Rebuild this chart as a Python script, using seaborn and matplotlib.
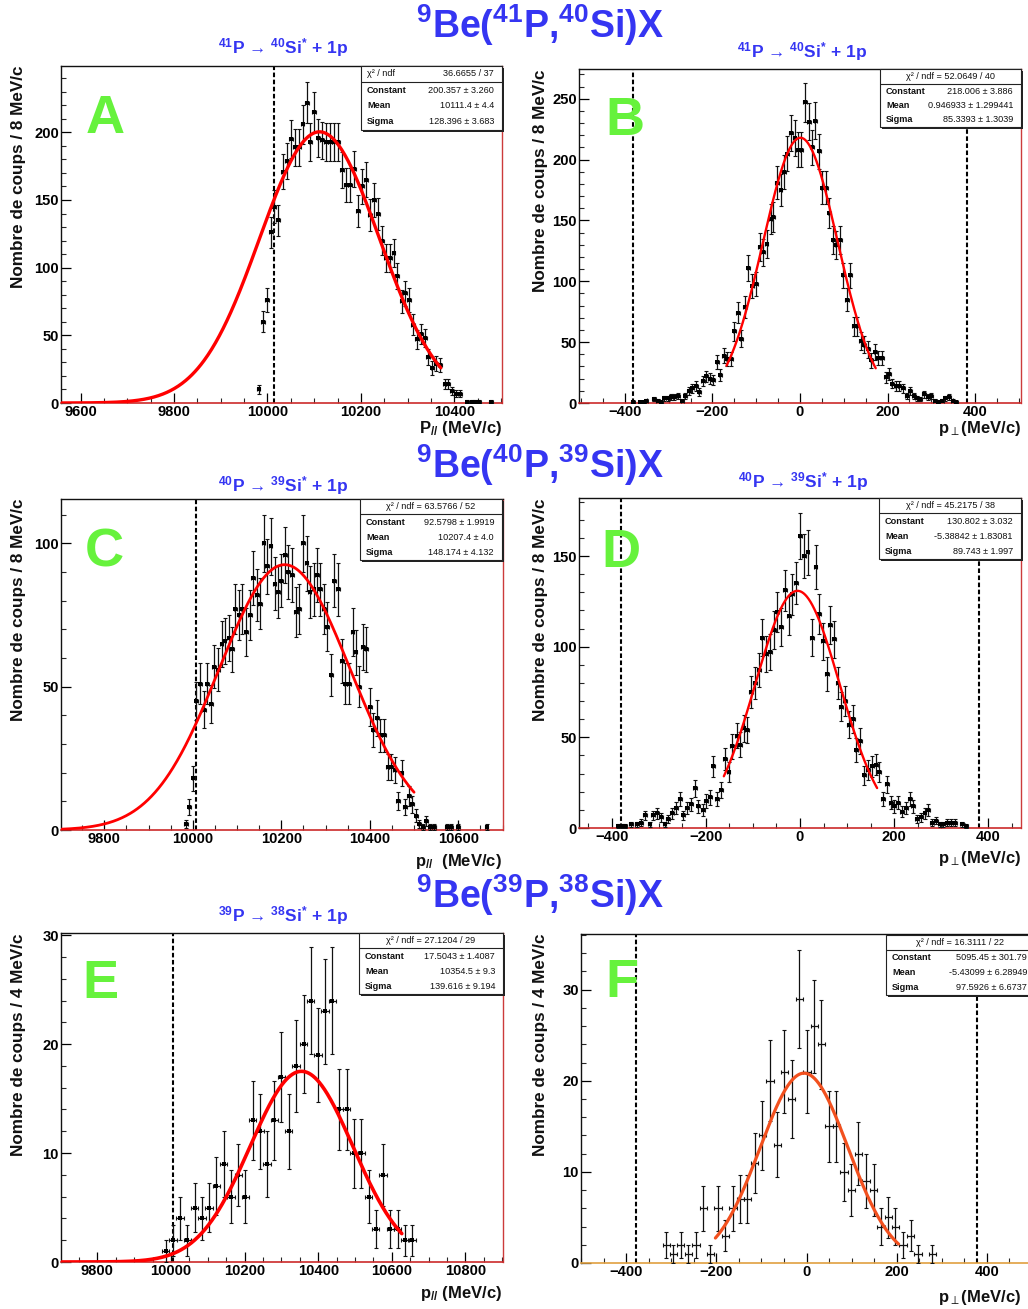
import numpy as np
import matplotlib
matplotlib.use("Agg")
import matplotlib.pyplot as plt
import seaborn as sns
from matplotlib.patches import Rectangle
from matplotlib.lines import Line2D
from matplotlib.ticker import MultipleLocator, AutoMinorLocator

# --- donnees ---
# A : 41P -> 40Si*, p parallele
a_x = [9981, 9991, 9999, 10008, 10015, 10023, 10033, 10041, 10050, 10058, 10067, 10075,
       10084, 10092, 10100, 10109, 10117, 10126, 10134, 10143, 10151, 10160, 10168, 10177,
       10186, 10194, 10202, 10211, 10219, 10228, 10236, 10245, 10253, 10262, 10270, 10278,
       10287, 10295, 10303, 10312, 10320, 10329, 10337, 10344, 10353, 10361, 10370, 10379,
       10387, 10395, 10404, 10413, 10428, 10437, 10445, 10453, 10479]
a_y = [10, 60, 76, 126, 145, 135, 171, 179, 195, 189, 189, 206,
       222, 193, 215, 196, 194, 193, 193, 193, 193, 172, 161, 161,
       173, 142, 160, 165, 139, 150, 140, 120, 107, 107, 111, 94,
       75, 81, 76, 58, 47, 51, 48, 34, 26, 29, 28, 14,
       14, 9, 7, 7, 1, 1, 1, 1, 1]

# B : 41P -> 40Si*, p perp
b_x = [-382, -366, -357, -351, -334, -325, -318, -310, -302, -295, -287, -278, -269, -262,
       -254, -246, -238, -230, -222, -214, -206, -198, -189, -182, -174, -166, -158, -150,
       -142, -134, -126, -118, -109, -101, -92, -84, -76, -67, -61, -53, -44, -36, -29, -20,
       -12, -5, 3, 11, 20, 27, 35, 44, 51, 60, 67, 76, 83, 91, 99, 107, 115, 123, 131, 139,
       147, 156, 163, 172, 179, 188, 196, 204, 211, 220, 227, 235, 244, 251, 260, 267, 275,
       283, 292, 299, 308, 316, 324, 332, 340, 349, 356]
b_y = [1, 1, 1, 2, 3, 2, 1, 4, 4, 5, 5, 6, 2, 6,
       10, 12, 14, 9, 18, 22, 20, 19, 34, 23, 39, 36, 36, 59,
       74, 53, 79, 111, 96, 98, 128, 124, 131, 151, 153, 181, 175, 190, 205, 222,
       218, 208, 208, 247, 231, 210, 232, 207, 177, 177, 156, 134, 130, 134, 105, 85, 105, 63, 63, 51,
       48, 44, 35, 42, 37, 37, 21, 24, 16, 14, 14, 12, 6, 10, 6, 4, 3,
       7, 5, 6, 2, 1, 2, 4, 5, 2, 1]

# C : 40P -> 39Si*, p parallele
c_x = [9984, 9992, 10001, 10008, 10017, 10025, 10033, 10041, 10048, 10057, 10065, 10072,
       10081, 10089, 10096, 10105, 10112, 10121, 10129, 10136, 10145, 10152, 10160, 10168,
       10176, 10185, 10192, 10200, 10208, 10216, 10224, 10233, 10240, 10249, 10257, 10264,
       10273, 10280, 10288, 10297, 10304, 10313, 10320, 10328, 10337, 10345, 10353, 10361,
       10368, 10376, 10384, 10392, 10401, 10408, 10417, 10424, 10432, 10440, 10448, 10456,
       10464, 10472, 10480, 10488, 10496, 10505, 10512, 10520, 10528, 10536, 10545, 10574,
       10583, 10599, 10664]
c_y = [2, 8, 18, 45, 51, 42, 51, 44, 57, 56, 65, 66,
       67, 63, 77, 75, 77, 69, 75, 88, 82, 79, 100, 92,
       99, 86, 83, 87, 96, 90, 89, 76, 77, 100, 93, 83,
       84, 89, 84, 77, 71, 54, 87, 84, 59, 51, 51, 69,
       62, 50, 64, 63, 43, 35, 39, 33, 33, 22, 22, 21,
       10, 20, 8, 12, 9, 5, 2, 1, 3, 1, 1, 1,
       1, 1, 1]

# D : 40P -> 39Si*, p perp
d_x = [-386, -379, -372, -360, -346, -338, -329, -320, -313, -304, -296, -288, -280, -272,
       -263, -256, -248, -240, -232, -224, -216, -207, -200, -192, -184, -176, -168, -160,
       -152, -144, -135, -127, -120, -112, -104, -96, -87, -80, -72, -64, -56, -48, -40, -32,
       -24, -16, -8, 1, 9, 16, 25, 33, 41, 49, 57, 64, 72, 80, 88, 96, 104, 112, 120, 128,
       137, 145, 153, 161, 168, 177, 185, 193, 200, 209, 217, 225, 234, 241, 249, 257, 265,
       273, 281, 290, 297, 305, 313, 321, 329, 345, 353]
d_y = [1, 1, 1, 2, 2, 3, 7, 2, 7, 8, 6, 2, 5, 8,
       11, 16, 7, 11, 13, 22, 12, 10, 15, 17, 34, 16, 21, 38,
       31, 45, 51, 46, 55, 54, 75, 80, 87, 105, 96, 97, 109, 119, 111, 131,
       117, 129, 135, 161, 150, 152, 105, 144, 118, 103, 85, 112, 104, 80, 67, 70, 57, 60, 43, 48,
       29, 32, 34, 35, 31, 16, 24, 14, 12, 14, 9, 11, 16, 12, 5, 6, 8,
       10, 3, 4, 2, 2, 3, 3, 3, 2, 1]

# E : 39P -> 38Si*, p parallele
e_x = [9985, 10005, 10024, 10044, 10064, 10084, 10103, 10123, 10143, 10163, 10183, 10202,
       10222, 10242, 10261, 10281, 10300, 10320, 10340, 10360, 10379, 10399, 10418, 10438,
       10457, 10477, 10497, 10517, 10537, 10556, 10576, 10596, 10616, 10636, 10655]
e_y = [1, 2, 4, 2, 5, 4, 5, 7, 9, 6, 8, 6,
       13, 12, 9, 13, 17, 12, 18, 20, 24, 19, 23, 24,
       14, 14, 10, 10, 6, 3, 8, 3, 3, 2, 2]

# F : 39P -> 38Si*, p perp
f_x = [-311, -295, -279, -262, -245, -229, -213, -196, -180, -163, -147, -131, -115, -98,
       -81, -65, -49, -33, -16, 1, 17, 33, 50, 66, 83, 99, 115, 132, 149, 165, 181, 197,
       214, 231, 247, 279]
f_y = [2, 1, 2, 1, 2, 6, 1, 6, 3, 6, 7, 7, 11, 14,
       20, 13, 21, 18, 29, 21, 26, 24, 15, 15, 10, 8, 12, 9, 8, 4, 5, 4,
       2, 3, 1, 1]

# parametres des ajustements (Constant, Mean, Sigma)
fit_a = (200.357, 10111.4, 128.396)
fit_b = (218.006, 0.946933, 85.3393)
fit_c = (92.5798, 10207.4, 148.174)
fit_d = (130.802, -5.38842, 89.743)
fit_e = (17.5043, 10354.5, 139.616)
fit_f = (5095.45, -5.43099, 97.5926)   # gausn (normalisee)

stats_a = ["χ² / ndf", "36.6655 / 37", ["200.357 ± 3.260", "10111.4 ± 4.4", "128.396 ± 3.683"]]
stats_b = ["χ² / ndf = 52.0649 / 40", None, ["218.006 ± 3.886", "0.946933 ± 1.299441", "85.3393 ± 1.3039"]]
stats_c = ["χ² / ndf = 63.5766 / 52", None, ["92.5798 ± 1.9919", "10207.4 ± 4.0", "148.174 ± 4.132"]]
stats_d = ["χ² / ndf = 45.2175 / 38", None, ["130.802 ± 3.032", "-5.38842 ± 1.83081", "89.743 ± 1.997"]]
stats_e = ["χ² / ndf = 27.1204 / 29", None, ["17.5043 ± 1.4087", "10354.5 ± 9.3", "139.616 ± 9.194"]]
stats_f = ["χ² / ndf = 16.3111 / 22", None, ["5095.45 ± 301.79", "-5.43099 ± 6.28949", "97.5926 ± 6.6737"]]

sns.set_style("ticks")
plt.rcParams['font.family'] = ['Liberation Sans', 'DejaVu Sans']
plt.rcParams['mathtext.fontset'] = 'custom'
plt.rcParams['mathtext.rm'] = 'Liberation Sans:bold'
plt.rcParams['mathtext.it'] = 'Liberation Sans:bold'
plt.rcParams['mathtext.bf'] = 'Liberation Sans:bold'
plt.rcParams['mathtext.fallback'] = 'stixsans'

W, H = 1028, 1309
fig = plt.figure(figsize=(W / 100, H / 100), dpi=100)
fig.patch.set_facecolor('white')

BLUE = '#3535f2'
GREEN = '#66f23c'


def fx(x):
    return x / W


def fy(y):
    return 1 - y / H


def make_axes(l, t, r, b):
    return fig.add_axes([l / W, 1 - b / H, (r - l) / W, (b - t) / H])


def gauss(x, c, m, s):
    return c * np.exp(-0.5 * ((x - m) / s) ** 2)


def stat_box(l, t, r, b, stats):
    h = b - t
    fig.add_artist(Rectangle((fx(l + 2), fy(b + 2)), (r - l) / W, h / H,
                             transform=fig.transFigure, facecolor='#222222', edgecolor='none', zorder=10))
    fig.add_artist(Rectangle((fx(l), fy(b)), (r - l) / W, h / H,
                             transform=fig.transFigure, facecolor='white', edgecolor='#222222',
                             lw=0.8, zorder=11))
    fig.add_artist(Line2D([fx(l), fx(r)], [fy(t + 0.25 * h)] * 2, transform=fig.transFigure,
                          color='#222222', lw=0.8, zorder=12))
    kw = dict(color='#111111', va='center', zorder=13)
    if stats[1] is None:
        fig.text(fx((l + r) / 2), fy(t + 0.125 * h), stats[0], ha='center', fontsize=6.6, **kw)
    else:
        fig.text(fx(l + 6), fy(t + 0.125 * h), stats[0], ha='left', fontsize=6.6, **kw)
        fig.text(fx(r - 8), fy(t + 0.125 * h), stats[1], ha='right', fontsize=6.6, **kw)
    for k, (name, val) in enumerate(zip(["Constant", "Mean", "Sigma"], stats[2])):
        yy = fy(t + (0.38 + 0.245 * k) * h)
        fig.text(fx(l + 6), yy, name, ha='left', fontweight='bold', fontsize=6.6, **kw)
        fig.text(fx(r - 8), yy, val, ha='right', fontsize=6.6, **kw)


def panel(box, xlim, ylim, xmaj, ymaj, x, y, xerr, fit, fit_range, fit_color, fit_lw,
          dashes, marker_size, bottom_color='#cc2a2a'):
    ax = make_axes(*box)
    x = np.asarray(x, float)
    y = np.asarray(y, float)
    ax.errorbar(x, y, yerr=np.sqrt(y), xerr=xerr, fmt='none', ecolor='#111111',
                elinewidth=0.9, capsize=1.4, capthick=0.8, zorder=3)
    if marker_size > 0:
        sns.scatterplot(x=x, y=y, marker='s', s=marker_size, color='black',
                        edgecolor='black', linewidth=0, ax=ax, zorder=4)
    xs = np.linspace(fit_range[0], fit_range[1], 500)
    c, m, s = fit
    sns.lineplot(x=xs, y=gauss(xs, c, m, s), ax=ax, color=fit_color, lw=fit_lw, zorder=5)
    for d in dashes:
        ax.axvline(d, color='black', lw=1.5, ls=(0, (2.2, 1.2)), zorder=2)
    ax.set_xlim(*xlim)
    ax.set_ylim(*ylim)
    ax.set_xlabel('')
    ax.set_ylabel('')
    ax.xaxis.set_major_locator(MultipleLocator(xmaj))
    ax.yaxis.set_major_locator(MultipleLocator(ymaj))
    ax.xaxis.set_minor_locator(AutoMinorLocator(4))
    ax.yaxis.set_minor_locator(AutoMinorLocator(5))
    ax.tick_params(which='major', direction='in', length=7, width=0.9, labelsize=10.6,
                   pad=1.5, top=False, right=False, colors='black')
    ax.tick_params(which='minor', direction='in', length=3.5, width=0.8, top=False, right=False)
    for lab in ax.get_xticklabels() + ax.get_yticklabels():
        lab.set_fontweight('bold')
    for sp in ['top', 'left']:
        ax.spines[sp].set_color('#111111')
        ax.spines[sp].set_linewidth(1.0)
    ax.spines['right'].set_color('#cc3b3b')
    ax.spines['right'].set_linewidth(1.0)
    ax.spines['bottom'].set_color(bottom_color)
    ax.spines['bottom'].set_linewidth(1.2)
    ax.set_facecolor('white')
    return ax


# A
panel((61, 66, 502, 403), (9558, 10502), (0, 249), 200, 50, a_x, a_y, 4, fit_a,
      (9558, 10371), 'red', 2.4, [10015], 10)
# B
panel((579, 69, 1021, 403), (-505, 505), (0, 274.5), 200, 50, b_x, b_y, 4, fit_b,
      (-168, 173), 'red', 1.7, [-382, 382], 10)
# C
panel((61, 499, 503, 830), (9702, 10701), (0, 115.5), 200, 50, c_x, c_y, 4, fit_c,
      (9702, 10500), 'red', 2.0, [10006], 10)
# D
panel((579, 498, 1021, 828), (-470, 470), (0, 182), 200, 50, d_x, d_y, 4, fit_d,
      (-162, 164), 'red', 1.7, [-380, 380], 10)
# E
panel((61, 933, 503, 1262), (9701, 10902), (0, 30.2), 200, 10, e_x, e_y, 10, fit_e,
      (9701, 10627), 'red', 2.6, [10005], 5)
# F
gn = (fit_f[0] / (np.sqrt(2 * np.pi) * fit_f[2]), fit_f[1], fit_f[2])
panel((581, 934, 1032, 1263), (-500, 500), (0, 36.1), 200, 10, f_x, f_y, 8, gn,
      (-202, 204), '#f2501e', 2.3, [-378, 378], 0, bottom_color='#e0a040')

# boites de statistiques
stat_box(361, 66, 502, 130, stats_a)
stat_box(880, 69, 1021, 127, stats_b)
stat_box(360, 499, 502, 560, stats_c)
stat_box(879, 498, 1021, 559, stats_d)
stat_box(359, 933, 503, 994, stats_e)
stat_box(886, 935, 1035, 995, stats_f)

# titres
for txt, yb in [(r'$^{9}$Be($^{41}$P,$^{40}$Si)X', 38),
                (r'$^{9}$Be($^{40}$P,$^{39}$Si)X', 478),
                (r'$^{9}$Be($^{39}$P,$^{38}$Si)X', 908)]:
    fig.text(fx(540), fy(yb), txt, fontsize=27, fontweight='bold', color=BLUE,
             ha='center', va='baseline')

for txt, xc, yb in [(r'$^{41}$P → $^{40}$Si$^{*}$ + 1p', 283, 53),
                    (r'$^{41}$P → $^{40}$Si$^{*}$ + 1p', 802, 57),
                    (r'$^{40}$P → $^{39}$Si$^{*}$ + 1p', 283, 491),
                    (r'$^{40}$P → $^{39}$Si$^{*}$ + 1p', 803, 487),
                    (r'$^{39}$P → $^{38}$Si$^{*}$ + 1p', 283, 921)]:
    fig.text(fx(xc), fy(yb), txt, fontsize=12.5, fontweight='bold', color=BLUE,
             ha='center', va='baseline')

# lettres
for let, xc, yb in [('A', 105, 133), ('B', 625, 135), ('C', 104, 567),
                    ('D', 621, 567), ('E', 100, 998), ('F', 622, 997)]:
    fig.text(fx(xc), fy(yb), let, fontsize=39, fontweight='bold', color=GREEN,
             ha='center', va='baseline')

# titres des axes y
for txt, xc, yt in [('Nombre de coups / 8 MeV/c', 19, 66),
                    ('Nombre de coups / 8 MeV/c', 540, 69),
                    ('Nombre de coups / 8 MeV/c', 19, 499),
                    ('Nombre de coups / 8 MeV/c', 540, 498),
                    ('Nombre de coups / 4 MeV/c', 19, 933),
                    ('Nombre de coups / 4 MeV/c', 540, 934)]:
    fig.text(fx(xc), fy(yt), txt, fontsize=12.3, fontweight='bold', color='#111111',
             rotation=90, ha='center', va='top')

# titres des axes x
for txt, xr, yb in [(r'P$_{//}$ (MeV/c)', 502, 433),
                    (r'p$_{\perp}$(MeV/c)', 1021, 433),
                    (r'p$_{//}$  (MeV/c)', 502, 866),
                    (r'p$_{\perp}$(MeV/c)', 1021, 863),
                    (r'p$_{//}$ (MeV/c)', 502, 1298),
                    (r'p$_{\perp}$(MeV/c)', 1021, 1302)]:
    fig.text(fx(xr), fy(yb), txt, fontsize=12, fontweight='bold', color='#111111',
             ha='right', va='baseline')

fig.savefig("out.png", dpi=100)
